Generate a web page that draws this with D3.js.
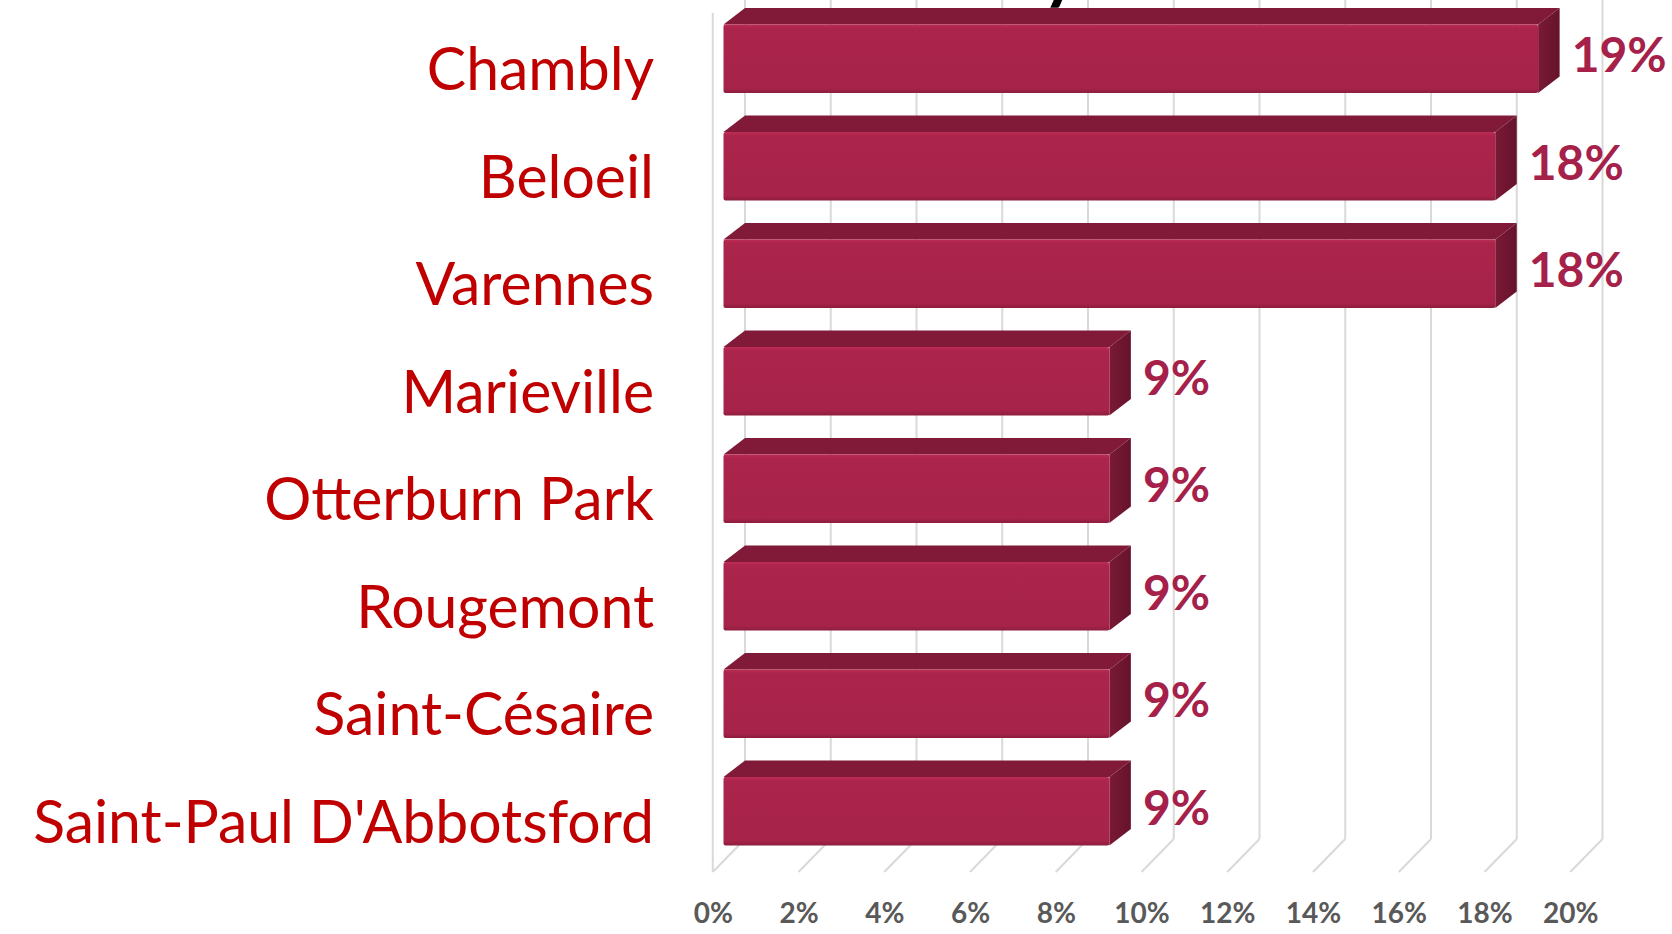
<!DOCTYPE html>
<html>
<head>
<meta charset="utf-8">
<script src="https://cdn.jsdelivr.net/npm/d3@7/dist/d3.min.js"></script>
<style>
  html, body { margin: 0; padding: 0; background: #ffffff; }
  svg { display: block; }
</style>
</head>
<body>
<svg id="chart" width="1672" height="934"></svg>
<script>
// ---- data ----
const categories = ["Chambly", "Beloeil", "Varennes", "Marieville", "Otterburn Park", "Rougemont", "Saint-Césaire", "Saint-Paul D'Abbotsford"];
const values = [0.19, 0.18, 0.18, 0.09, 0.09, 0.09, 0.09, 0.09];
const valueLabels = ["19%", "18%", "18%", "9%", "9%", "9%", "9%", "9%"];
const tickValues = [0, 0.02, 0.04, 0.06, 0.08, 0.10, 0.12, 0.14, 0.16, 0.18, 0.20];
const titleFragment = "y";

// ---- layout ----
const svg = d3.select("#chart");
const depth = { dx: 43, dy: -33 };          // full depth of the 3D floor
const barFront = 0.25, barBack = 0.75;      // bar occupies middle half of depth
const floorFrontY = 872;
const labelRight = 654;

const x = d3.scaleLinear().domain([0, 0.20]).range([723.5, 1581]);
const y = d3.scaleBand().domain(categories).range([5, 865]);
const barH = 68.5;

const fx = v => x(v) - barFront * depth.dx;             // floor front
const bx = v => x(v) + (barBack - barFront) * depth.dx; // back wall
const backY = floorFrontY + depth.dy;
const bdx = (barBack - barFront) * depth.dx, bdy = (barBack - barFront) * depth.dy;

const grid = "#d9d9d9";

// back wall vertical gridlines
svg.append("g").selectAll("line").data(tickValues).join("line")
  .attr("x1", d => bx(d)).attr("x2", d => bx(d))
  .attr("y1", 0).attr("y2", backY)
  .attr("stroke", grid).attr("stroke-width", 2);

// floor diagonals
svg.append("g").selectAll("line").data(tickValues).join("line")
  .attr("x1", d => fx(d)).attr("y1", floorFrontY)
  .attr("x2", d => bx(d)).attr("y2", backY)
  .attr("stroke", grid).attr("stroke-width", 2);

// left wall front edge
svg.append("line")
  .attr("x1", fx(0)).attr("x2", fx(0))
  .attr("y1", 13).attr("y2", floorFrontY)
  .attr("stroke", grid).attr("stroke-width", 2);

// title: sits above the visible area, only its descender shows (as in the reference)
svg.append("text")
  .attr("x", 1042).attr("y", -5)
  .attr("font-family", "Lato, sans-serif")
  .attr("font-weight", 700)
  .attr("font-size", 72)
  .attr("fill", "#000")
  .text(titleFragment);

// gradients
const defs = svg.append("defs");
const gFront = defs.append("linearGradient").attr("id", "gFront").attr("x1", 0).attr("y1", 0).attr("x2", 0).attr("y2", 1);
gFront.append("stop").attr("offset", "0%").attr("stop-color", "#bd2c55");
gFront.append("stop").attr("offset", "6%").attr("stop-color", "#ab244b");
gFront.append("stop").attr("offset", "93%").attr("stop-color", "#a72349");
gFront.append("stop").attr("offset", "100%").attr("stop-color", "#8d1d3d");
const gSide = defs.append("linearGradient").attr("id", "gSide").attr("x1", 0).attr("y1", 0).attr("x2", 1).attr("y2", 0);
gSide.append("stop").attr("offset", "0%").attr("stop-color", "#7a1935");
gSide.append("stop").attr("offset", "100%").attr("stop-color", "#66132d");

// bars
const rows = categories.map((c, i) => ({ c, v: values[i], label: valueLabels[i] }));
const bars = svg.append("g").selectAll("g").data(rows).join("g");

const yTop = d => y(d.c) + y.bandwidth() / 2 - barH / 2;
const yBot = d => yTop(d) + barH;

bars.append("path") // top face
  .attr("d", d => {
    const x0 = x(0), x1 = x(d.v), t = yTop(d);
    return `M${x0},${t} L${x0 + bdx},${t + bdy} L${x1 + bdx},${t + bdy} L${x1},${t} Z`;
  })
  .attr("fill", "#801a38");

bars.append("path") // side face
  .attr("d", d => {
    const x1 = x(d.v), t = yTop(d), b = yBot(d);
    return `M${x1},${t} L${x1 + bdx},${t + bdy} L${x1 + bdx},${b + bdy} L${x1},${b} Z`;
  })
  .attr("fill", "url(#gSide)");

bars.append("rect") // front face
  .attr("x", x(0))
  .attr("y", d => yTop(d))
  .attr("width", d => x(d.v) - x(0))
  .attr("height", barH)
  .attr("rx", 2)
  .attr("fill", "url(#gFront)");

// value labels
bars.append("text")
  .attr("x", d => x(d.v) + bdx + 12)
  .attr("y", d => yTop(d) + (bdy + barH) / 2 + 5)
  .attr("dy", "0.35em")
  .attr("font-family", "Lato, sans-serif")
  .attr("font-weight", 700)
  .attr("font-size", 48)
  .attr("fill", "#a5214a")
  .text(d => d.label);

// category axis
const yAxis = svg.append("g")
  .attr("transform", `translate(${labelRight},0)`)
  .call(d3.axisLeft(y).tickSize(0).tickPadding(0));
yAxis.select(".domain").remove();
const catText = yAxis.selectAll("text")
  .attr("x", 0)
  .attr("dy", null)
  .attr("y", 31.5)
  .attr("font-family", "Lato, sans-serif")
  .attr("font-size", 60)
  .attr("fill", "#c00000");
let maxW = 0;
catText.each(function () { maxW = Math.max(maxW, this.getComputedTextLength()); });
const k = 621 / maxW;
catText.attr("transform", `scale(${k},1)`);

// value axis
const xAxis = svg.append("g")
  .attr("transform", `translate(${-barFront * depth.dx},${floorFrontY})`)
  .call(d3.axisBottom(x).tickValues(tickValues).tickFormat(d3.format(".0%")).tickSize(0).tickPadding(31));
xAxis.select(".domain").remove();
xAxis.selectAll("text")
  .attr("font-family", "Lato, sans-serif")
  .attr("font-weight", 700)
  .attr("font-size", 28)
  .attr("fill", "#595959");
</script>
</body>
</html>
